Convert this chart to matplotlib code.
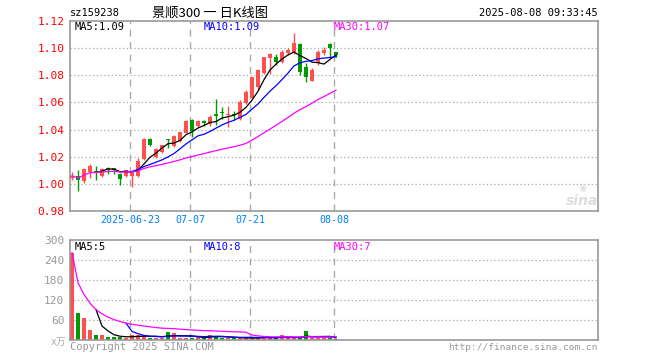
import matplotlib
matplotlib.use("Agg")
import matplotlib.pyplot as plt
import numpy as np
import pandas as pd

# ---------------- data ----------------
opens = [1.004, 1.006, 1.0022, 1.009, 1.0095, 1.0055, 1.0118, 1.0115, 1.0075, 1.0055,
         1.0055, 1.0055, 1.018, 1.033, 1.0199, 1.0234, 1.033, 1.0278, 1.0316, 1.0378,
         1.0472, 1.0425, 1.046, 1.044, 1.0512, 1.0525, 1.0508, 1.0512, 1.048, 1.0595,
         1.0631, 1.0717, 1.0816, 1.0926, 1.0934, 1.090, 1.0965, 1.0963, 1.1032, 1.0864,
         1.0761, 1.089, 1.0963, 1.1032, 1.097]
highs = [1.0085, 1.0105, 1.0115, 1.0145, 1.013, 1.0115, 1.0123, 1.012, 1.0078, 1.0105,
         1.0095, 1.019, 1.0335, 1.0335, 1.0265, 1.029, 1.033, 1.0358, 1.0385, 1.047,
         1.0475, 1.047, 1.047, 1.051, 1.0625, 1.0563, 1.0575, 1.054, 1.0617, 1.069,
         1.079, 1.0845, 1.0935, 1.0963, 1.0955, 1.099, 1.100, 1.1115, 1.1035, 1.0889,
         1.0855, 1.0987, 1.101, 1.1035, 1.0975]
lows = [1.0025, 0.995, 1.001, 1.0045, 1.003, 1.005, 1.0073, 1.007, 0.9993, 1.005,
        0.9975, 1.005, 1.0175, 1.0277, 1.0192, 1.023, 1.0266, 1.0275, 1.031, 1.0375,
        1.0348, 1.042, 1.043, 1.043, 1.0435, 1.048, 1.0416, 1.047, 1.047, 1.059,
        1.063, 1.0692, 1.081, 1.081, 1.0875, 1.089, 1.095, 1.0955, 1.0803, 1.0753,
        1.0755, 1.0877, 1.0951, 1.0938, 1.0938]
closes = [1.006, 1.0025, 1.011, 1.0135, 1.009, 1.011, 1.0105, 1.0105, 1.0038, 1.0103,
          1.0093, 1.0168, 1.033, 1.0287, 1.0254, 1.0284, 1.0325, 1.0353, 1.0383, 1.0465,
          1.039, 1.0465, 1.0448, 1.0495, 1.0497, 1.052, 1.0515, 1.0505, 1.060, 1.068,
          1.0786, 1.084, 1.0933, 1.0955, 1.0897, 1.0975, 1.099, 1.1037, 1.0827, 1.079,
          1.084, 1.097, 1.0987, 1.0998, 1.0951]
volumes = [262, 82, 66, 31, 15, 15, 9, 9, 9, 7,
           14, 14, 14, 7, 7, 7, 24, 21, 5, 6,
           6, 12, 6, 15, 10, 7, 7, 5, 6, 6,
           6, 6, 12, 6, 6, 15, 6, 6, 5, 27,
           7, 7, 7, 7, 4]

tick_idx = [10, 20, 30, 44]
tick_labels = ["2025-06-23", "07-07", "07-21", "08-08"]
price_ticks = [0.98, 1.00, 1.02, 1.04, 1.06, 1.08, 1.10, 1.12]
vol_ticks = [60, 120, 180, 240, 300]

# ---------------- style ----------------
RED = "#ff5050"
GREEN = "#009900"
GRAY = "#999999"
plt.rcParams["font.family"] = ["DejaVu Sans Mono", "Noto Sans CJK SC"]

o = np.array(opens); h = np.array(highs); l = np.array(lows); c = np.array(closes)
v = np.array(volumes, dtype=float)
n = len(c)
x = np.arange(n)
up = c >= o
cols = np.where(up, RED, GREEN)

cs = pd.Series(c)
ma5 = cs.rolling(5).mean()
ma10 = cs.rolling(10).mean()
ma30 = cs.rolling(30, min_periods=1).mean()
vs = pd.Series(v)
vma5 = vs.rolling(5).mean()
vma10 = vs.rolling(10).mean()
vma30 = vs.rolling(30, min_periods=1).mean()

W, H = 660, 360
fig = plt.figure(figsize=(W / 100, H / 100), dpi=100)
fig.patch.set_facecolor("white")

def fr(x0, y0, x1, y1):
    return [x0 / W, 1 - y1 / H, (x1 - x0) / W, (y1 - y0) / H]

ax = fig.add_axes(fr(70, 21, 598, 211))
axv = fig.add_axes(fr(70, 240, 598, 340))

xlim = (-1 / 3, 88 - 1 / 3)
for a in (ax, axv):
    a.set_xlim(*xlim)
    for s in a.spines.values():
        s.set_color(GRAY)
        s.set_linewidth(1.2)
    a.tick_params(length=0)
    for ti in tick_idx:
        a.axvline(ti - 1 / 3, color="#aaaaaa", lw=1, ls=(0, (5, 4)), zorder=0)

# price panel
ax.set_ylim(0.98, 1.12)
for yv in price_ticks[1:-1]:
    ax.axhline(yv, color="#aaaaaa", lw=0.9, ls=(0, (1, 2)), zorder=0)
ax.vlines(x, l, h, colors=cols, lw=1, zorder=2)
body = np.abs(c - o)
body = np.maximum(body, 0.0007)
ax.bar(x, body, bottom=np.minimum(o, c), width=0.78, color=cols, zorder=3, linewidth=0)
ax.plot(x, ma5, color="black", lw=0.9, zorder=4)
ax.plot(x, ma10, color="#0000ff", lw=0.9, zorder=4)
ax.plot(x, ma30, color="#ff00ff", lw=0.9, zorder=4)
ax.set_yticks(price_ticks)
ax.set_yticklabels([f"{t:.2f}" for t in price_ticks], fontsize=8, color="#ff0000")
ax.set_xticks([t - 1 / 3 for t in tick_idx])
ax.set_xticklabels(tick_labels, fontsize=7.2, color="#0080ff")
ax.tick_params(axis="x", pad=3)
ax.tick_params(axis="y", pad=4)

# volume panel
axv.set_ylim(0, 300)
for yv in vol_ticks[:-1]:
    axv.axhline(yv, color="#aaaaaa", lw=0.9, ls=(0, (1, 2)), zorder=0)
axv.bar(x, v, width=0.78, color=cols, linewidth=0, zorder=2)
axv.plot(x, vma5, color="black", lw=0.9, zorder=3)
axv.plot(x, vma10, color="#0000ff", lw=0.9, zorder=3)
axv.plot(x, vma30, color="#ff00ff", lw=0.9, zorder=3)
axv.set_yticks(vol_ticks)
axv.set_yticklabels([str(t) for t in vol_ticks], fontsize=8, color=GRAY)
axv.set_xticks([])
axv.tick_params(axis="y", pad=4)

# texts
def ftxt(px, py, s, **kw):
    fig.text(px / W, 1 - py / H, s, **kw)

ftxt(70, 13, "sz159238", fontsize=7.5, va="center", ha="left", color="black")
ftxt(210, 13, "景顺300 一 日K线图", fontsize=9.5, va="center", ha="center",
     color="black", family=["Noto Sans CJK SC", "DejaVu Sans"])
ftxt(598, 13, "2025-08-08 09:33:45", fontsize=7.5, va="center", ha="right", color="black")
ftxt(75, 27, "MA5:1.09", fontsize=7.5, va="center", ha="left", color="black")
ftxt(204, 27, "MA10:1.09", fontsize=7.5, va="center", ha="left", color="#0000ff")
ftxt(334, 27, "MA30:1.07", fontsize=7.5, va="center", ha="left", color="#ff00ff")
ftxt(75, 247, "MA5:5", fontsize=7.5, va="center", ha="left", color="black")
ftxt(204, 247, "MA10:8", fontsize=7.5, va="center", ha="left", color="#0000ff")
ftxt(334, 247, "MA30:7", fontsize=7.5, va="center", ha="left", color="#ff00ff")
ftxt(66, 342, "x万", fontsize=7, va="center", ha="right", color="#aaaaaa",
     family=["DejaVu Sans Mono", "Noto Sans CJK SC"])
ftxt(70, 347, "Copyright 2025 SINA.COM", fontsize=7.5, va="center", ha="left", color=GRAY)
ftxt(598, 347, "http://finance.sina.com.cn", fontsize=6.8, va="center", ha="right", color=GRAY)
ftxt(582, 201, "sina", fontsize=10, va="center", ha="center", color="#dddddd",
     fontweight="bold", style="italic", family="DejaVu Sans")
ftxt(583, 188, "◉", fontsize=7, va="center", ha="center", color="#e0e0e0",
     family="DejaVu Sans")

fig.savefig("out.png", dpi=100, facecolor="white")
